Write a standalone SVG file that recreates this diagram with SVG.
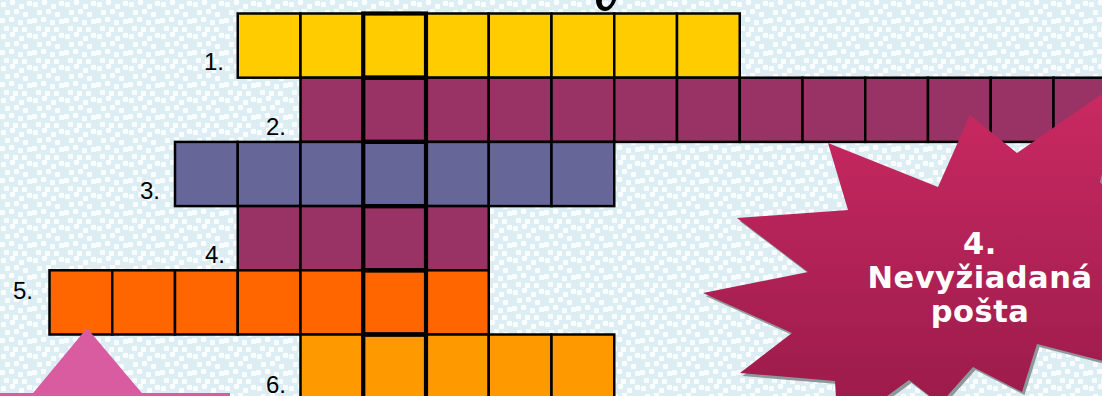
<svg xmlns="http://www.w3.org/2000/svg" width="1102" height="396" viewBox="0 0 1102 396">
<style>
.c{stroke:#000;stroke-width:2.5}
.yel{fill:#FFCC00}.pur{fill:#993366}.blu{fill:#666699}.ora{fill:#FF6600}.amb{fill:#FF9900}
.hl{fill:none;stroke:#000;stroke-width:4.2}
.lbl{font-family:"Liberation Sans",Arial,sans-serif;font-size:24px;fill:#000;text-anchor:end}
.st{font-family:"DejaVu Sans",Verdana,sans-serif;font-weight:bold;font-size:30.5px;letter-spacing:0.5px;fill:#fff;text-anchor:middle}
</style>
<defs>
<pattern id="dots" width="32" height="32" patternUnits="userSpaceOnUse">
<rect width="32" height="32" fill="#DCEEF4"/>
<g fill="#FFFFFF" fill-opacity="0.85">
<rect x="1" y="2" width="5" height="5" rx="0.8"/>
<rect x="10" y="0" width="5" height="5" rx="0.8"/>
<rect x="19" y="4" width="5" height="5" rx="0.8"/>
<rect x="27" y="1" width="5" height="5" rx="0.8"/>
<rect x="5" y="10" width="5" height="5" rx="0.8"/>
<rect x="14" y="9" width="5" height="5" rx="0.8"/>
<rect x="23" y="12" width="5" height="5" rx="0.8"/>
<rect x="0" y="18" width="5" height="5" rx="0.8"/>
<rect x="9" y="17" width="5" height="5" rx="0.8"/>
<rect x="18" y="20" width="5" height="5" rx="0.8"/>
<rect x="27" y="19" width="5" height="5" rx="0.8"/>
<rect x="4" y="26" width="5" height="5" rx="0.8"/>
<rect x="13" y="27" width="5" height="5" rx="0.8"/>
<rect x="22" y="27" width="5" height="5" rx="0.8"/>
</g>
</pattern>
<linearGradient id="starg" x1="0" y1="80" x2="0" y2="430" gradientUnits="userSpaceOnUse">
<stop offset="0" stop-color="#CB2A62"/>
<stop offset="1" stop-color="#981A49"/>
</linearGradient>
</defs>
<rect width="1102" height="396" fill="url(#dots)"/>

<g id="row1">
<rect class="c yel" x="237.75" y="13.5" width="62.75" height="64.2"/>
<rect class="c yel" x="300.5" y="13.5" width="62.75" height="64.2"/>
<rect class="c yel" x="363.25" y="13.5" width="62.75" height="64.2"/>
<rect class="c yel" x="426" y="13.5" width="62.75" height="64.2"/>
<rect class="c yel" x="488.75" y="13.5" width="62.75" height="64.2"/>
<rect class="c yel" x="551.5" y="13.5" width="62.75" height="64.2"/>
<rect class="c yel" x="614.25" y="13.5" width="62.75" height="64.2"/>
<rect class="c yel" x="677" y="13.5" width="62.75" height="64.2"/>
<text class="lbl" x="224" y="70">1.</text>
</g>
<g id="row2">
<rect class="c pur" x="300.5" y="77.7" width="62.75" height="64.2"/>
<rect class="c pur" x="363.25" y="77.7" width="62.75" height="64.2"/>
<rect class="c pur" x="426" y="77.7" width="62.75" height="64.2"/>
<rect class="c pur" x="488.75" y="77.7" width="62.75" height="64.2"/>
<rect class="c pur" x="551.5" y="77.7" width="62.75" height="64.2"/>
<rect class="c pur" x="614.25" y="77.7" width="62.75" height="64.2"/>
<rect class="c pur" x="677" y="77.7" width="62.75" height="64.2"/>
<rect class="c pur" x="739.75" y="77.7" width="62.75" height="64.2"/>
<rect class="c pur" x="802.5" y="77.7" width="62.75" height="64.2"/>
<rect class="c pur" x="865.25" y="77.7" width="62.75" height="64.2"/>
<rect class="c pur" x="928" y="77.7" width="62.75" height="64.2"/>
<rect class="c pur" x="990.75" y="77.7" width="62.75" height="64.2"/>
<rect class="c pur" x="1053.5" y="77.7" width="62.75" height="64.2"/>
<text class="lbl" x="286" y="135">2.</text>
</g>
<g id="row3">
<rect class="c blu" x="175" y="141.9" width="62.75" height="64.2"/>
<rect class="c blu" x="237.75" y="141.9" width="62.75" height="64.2"/>
<rect class="c blu" x="300.5" y="141.9" width="62.75" height="64.2"/>
<rect class="c blu" x="363.25" y="141.9" width="62.75" height="64.2"/>
<rect class="c blu" x="426" y="141.9" width="62.75" height="64.2"/>
<rect class="c blu" x="488.75" y="141.9" width="62.75" height="64.2"/>
<rect class="c blu" x="551.5" y="141.9" width="62.75" height="64.2"/>
<text class="lbl" x="160" y="199">3.</text>
</g>
<g id="row4">
<rect class="c pur" x="237.75" y="206.1" width="62.75" height="64.2"/>
<rect class="c pur" x="300.5" y="206.1" width="62.75" height="64.2"/>
<rect class="c pur" x="363.25" y="206.1" width="62.75" height="64.2"/>
<rect class="c pur" x="426" y="206.1" width="62.75" height="64.2"/>
<text class="lbl" x="225" y="263">4.</text>
</g>
<g id="row5">
<rect class="c ora" x="49.5" y="270.3" width="62.75" height="64.2"/>
<rect class="c ora" x="112.25" y="270.3" width="62.75" height="64.2"/>
<rect class="c ora" x="175" y="270.3" width="62.75" height="64.2"/>
<rect class="c ora" x="237.75" y="270.3" width="62.75" height="64.2"/>
<rect class="c ora" x="300.5" y="270.3" width="62.75" height="64.2"/>
<rect class="c ora" x="363.25" y="270.3" width="62.75" height="64.2"/>
<rect class="c ora" x="426" y="270.3" width="62.75" height="64.2"/>
<text class="lbl" x="33" y="299">5.</text>
</g>
<g id="row6">
<rect class="c amb" x="300.5" y="334.5" width="62.75" height="64.2"/>
<rect class="c amb" x="363.25" y="334.5" width="62.75" height="64.2"/>
<rect class="c amb" x="426" y="334.5" width="62.75" height="64.2"/>
<rect class="c amb" x="488.75" y="334.5" width="62.75" height="64.2"/>
<rect class="c amb" x="551.5" y="334.5" width="62.75" height="64.2"/>
<text class="lbl" x="286" y="393">6.</text>
</g>
<g id="solution-column">
<rect class="hl" x="363.25" y="13.5" width="62.75" height="64.2"/>
<rect class="hl" x="363.25" y="77.7" width="62.75" height="64.2"/>
<rect class="hl" x="363.25" y="141.9" width="62.75" height="64.2"/>
<rect class="hl" x="363.25" y="206.1" width="62.75" height="64.2"/>
<rect class="hl" x="363.25" y="270.3" width="62.75" height="64.2"/>
<rect class="hl" x="363.25" y="334.5" width="62.75" height="64.2"/>
</g>

<g id="star">
<polygon transform="translate(2.5,3)" fill="#8E989B" points="970,115 1017,153 1125,78 1100,182 1150,240 1115,300 1145,372 1037,344 1022,392 973,367 940,404 909,380 838,432 835,381 740,373 792,333 703,293 808,272 737,218 848,210 828,143 938,187"/>
<polygon fill="url(#starg)" points="970,115 1017,153 1125,78 1100,182 1150,240 1115,300 1145,372 1037,344 1022,392 973,367 940,404 909,380 838,432 835,381 740,373 792,333 703,293 808,272 737,218 848,210 828,143 938,187"/>
<text class="st" x="980" y="254">4.</text>
<text class="st" x="980" y="288">Nevyžiadaná</text>
<text class="st" x="980" y="322">pošta</text>
</g>

<g id="arrow">
<polygon fill="#D95BA0" points="87,328 29,398 146,398"/>
<rect fill="#D95BA0" x="0" y="393" width="230" height="5"/>
</g>

<g id="top-fragment">
<path fill="#000" d="M596,0 C596,7 600,11 605,11 C610,11 614,6 616,0 L612,0 C611,4 608,7 606,7 C603,7 601,4 602,0 Z"/>
</g>

<g id="connectors"/>
</svg>
